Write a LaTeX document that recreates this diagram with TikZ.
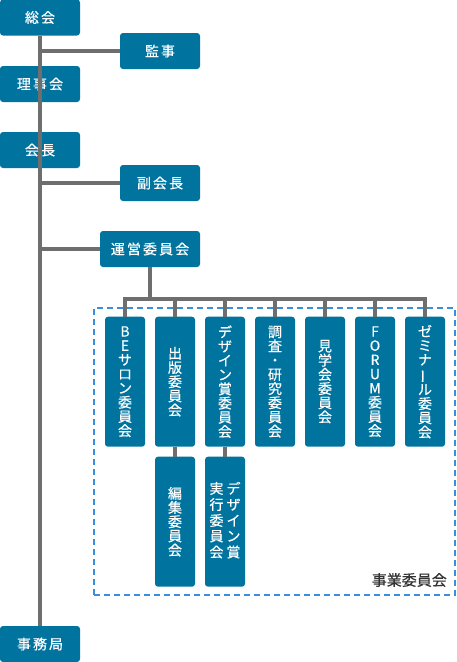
\documentclass[tikz,border=0pt]{standalone}
\usepackage{fontspec}
\usepackage{graphicx}
\setmainfont[FakeBold=0.5]{Noto Sans CJK JP}
\newfontfamily\jph[LetterSpace=15,FakeBold=0.5]{Noto Sans CJK JP}
\newfontfamily\jpl[FakeBold=0.4]{Noto Sans CJK JP}
\definecolor{boxblue}{HTML}{00739F}
\definecolor{linegray}{HTML}{6E6E6E}
\definecolor{dashblue}{HTML}{3A8FDC}
\definecolor{labelgray}{HTML}{333333}
\newcommand{\vbar}{\rotatebox[origin=c]{90}{ー}}
\begin{document}
\begin{tikzpicture}[x=1pt,y=-1pt,
  box/.style={fill=boxblue, rounded corners=3pt, text=white, inner sep=0pt,
              font=\fontsize{14}{14.2}\selectfont, align=center},
  hbox/.style={box, minimum width=80pt, minimum height=36pt,
               font=\jph\fontsize{14}{16}\selectfont},
  vbox/.style={box, minimum width=40pt, minimum height=130pt},
  conn/.style={draw=linegray, line width=4pt},
  area/.style={draw=dashblue, line width=2pt, dash pattern=on 6pt off 4pt,
               inner sep=0pt, minimum width=361pt, minimum height=287pt},
  arealabel/.style={text=labelgray, inner sep=0pt, font=\jpl\fontsize{15}{16}\selectfont}
]
\useasboundingbox (0,0) rectangle (457,662);

% dashed area
\node[area] (jigyo) at (274.5,451.5) {};
\node[arealabel, anchor=east] (jigyolabel) at (447,580) {事業委員会};

% left column
\node[hbox] (sokai) at (40,17.5) {総会};
\node[hbox] (kanji) at (160,51) {監事};
\node[hbox] (riji) at (40,84) {理事会};
\node[hbox] (kaicho) at (40,150) {会長};
\node[hbox] (fuku) at (160,183) {副会長};
\node[hbox, minimum width=100pt] (unei) at (150,249) {運営委員会};
\node[hbox] (jimu) at (40,644) {事務局};

% committees
\node[vbox] (c1) at (125,381.7) {B\\E\\サ\\ロ\\ン\\委\\員\\会};
\node[vbox] (c2) at (175,381.7) {出\\版\\委\\員\\会};
\node[vbox] (c3) at (225,381.7) {デ\\ザ\\イ\\ン\\賞\\委\\員\\会};
\node[vbox] (c4) at (275,381.7) {調\\査\\・\\研\\究\\委\\員\\会};
\node[vbox] (c5) at (325,381.7) {見\\学\\会\\委\\員\\会};
\node[vbox] (c6) at (375,381.7) {F\\O\\R\\U\\M\\委\\員\\会};
\node[vbox] (c7) at (425,381.7) {ゼ\\ミ\\ナ\\\vbar\\ル\\委\\員\\会};
\node[vbox] (c8) at (175,521.7) {編\\集\\委\\員\\会};
\node[vbox] (c9) at (225,521.7) {\begin{tabular}{@{}c@{\hspace{3pt}}c@{}}
実&デ\\行&ザ\\委&イ\\員&ン\\会&賞\end{tabular}};

% connectors
\draw[conn] (sokai.south) -- (jimu.north);
\draw[conn] (kanji.west) -- (kanji.west -| sokai.south);
\draw[conn] (fuku.west) -- (fuku.west -| sokai.south);
\draw[conn] (unei.west) -- (unei.west -| sokai.south);
\coordinate (bus) at (150,299);
\draw[conn] (unei.south) -- (bus);
\draw[conn] (c1.north) -- (c1.north |- bus) -- (c7.north |- bus) -- (c7.north);
\foreach \c in {c2,c3,c4,c5,c6} {\draw[conn] (\c.north) -- (\c.north |- bus);}
\draw[conn] (c2.south) -- (c8.north);
\draw[conn] (c3.south) -- (c9.north);
\end{tikzpicture}
\end{document}
